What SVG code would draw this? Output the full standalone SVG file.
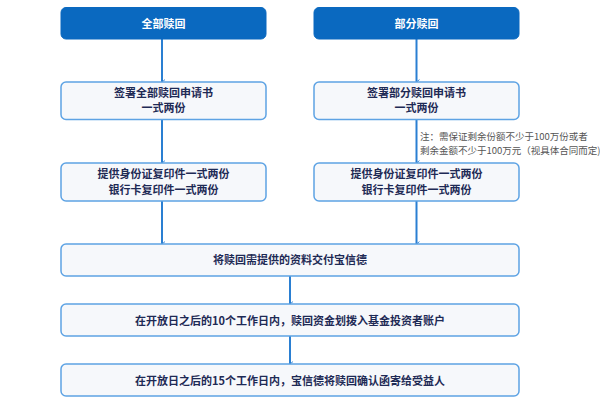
<svg xmlns="http://www.w3.org/2000/svg" width="600" height="417" viewBox="0 0 600 417">
<style>
.hd{fill:#0a69c0;stroke:#0a69c0;stroke-width:1}
.bx{fill:#f6f8fb;stroke:#5ea3e4;stroke-width:1.5}
.ht{font-family:"Noto Sans CJK SC","Noto Sans",sans-serif;font-size:11px;font-weight:bold;fill:#ffffff;text-anchor:middle}
.t{font-family:"Noto Sans CJK SC","Noto Sans",sans-serif;font-size:11px;font-weight:bold;fill:#1e2a55;text-anchor:middle}
.n{font-family:"Noto Sans CJK SC","Noto Sans",sans-serif;font-size:9.5px;fill:#555555}
.c{stroke:#2a7fd2;stroke-width:2;fill:none;marker-end:url(#ah)}
</style>
<defs>
<marker id="ah" viewBox="0 0 10 10" refX="5" refY="8" markerWidth="6" markerHeight="6" markerUnits="userSpaceOnUse" orient="auto-start-reverse">
<path d="M1,3 L5,8 L9,3" fill="none" stroke="#2a7fd2" stroke-width="1.5"/>
</marker>
</defs>
<rect width="600" height="417" fill="#ffffff"/>
<g id="connectors">
<line class="c" x1="162" y1="39" x2="162" y2="82"/>
<line class="c" x1="416.5" y1="39" x2="416.5" y2="82"/>
<line class="c" x1="162" y1="120" x2="162" y2="163"/>
<line class="c" x1="416.5" y1="120" x2="416.5" y2="163"/>
<line class="c" x1="162" y1="201" x2="162" y2="244"/>
<line class="c" x1="416.5" y1="201" x2="416.5" y2="244"/>
<line class="c" x1="290" y1="276" x2="290" y2="304"/>
<line class="c" x1="290" y1="336" x2="290" y2="364"/>
</g>
<g id="full">
<rect class="hd" x="61" y="7.5" width="205" height="31.5" rx="5"/>
<text class="ht" x="163.5" y="28">全部赎回</text>
</g>
<g id="partial">
<rect class="hd" x="314" y="7.5" width="205" height="31.5" rx="5"/>
<text class="ht" x="416.5" y="28">部分赎回</text>
</g>
<g id="sign-full">
<rect class="bx" x="61" y="82" width="205" height="37.5" rx="5"/>
<text class="t" x="163.5" y="97">签署全部赎回申请书</text>
<text class="t" x="163.5" y="112">一式两份</text>
</g>
<g id="sign-partial">
<rect class="bx" x="314" y="82" width="205" height="37.5" rx="5"/>
<text class="t" x="416.5" y="97">签署部分赎回申请书</text>
<text class="t" x="416.5" y="112">一式两份</text>
</g>
<g id="note">
<text class="n" x="420" y="140">注：需保证剩余份额不少于100万份或者</text>
<text class="n" x="420" y="154">剩余金额不少于100万元（视具体合同而定)</text>
</g>
<g id="id-full">
<rect class="bx" x="61" y="163" width="205" height="38" rx="5"/>
<text class="t" x="163.5" y="178">提供身份证复印件一式两份</text>
<text class="t" x="163.5" y="194">银行卡复印件一式两份</text>
</g>
<g id="id-partial">
<rect class="bx" x="314" y="163" width="205" height="38" rx="5"/>
<text class="t" x="416.5" y="178">提供身份证复印件一式两份</text>
<text class="t" x="416.5" y="194">银行卡复印件一式两份</text>
</g>
<g id="submit">
<rect class="bx" x="61" y="244" width="458" height="32" rx="5"/>
<text class="t" x="290" y="264">将赎回需提供的资料交付宝信德</text>
</g>
<g id="transfer">
<rect class="bx" x="61" y="304" width="458" height="32" rx="5"/>
<text class="t" x="290" y="325">在开放日之后的10个工作日内，赎回资金划拨入基金投资者账户</text>
</g>
<g id="confirm">
<rect class="bx" x="61" y="364" width="458" height="32" rx="5"/>
<text class="t" x="290" y="385">在开放日之后的15个工作日内，宝信德将赎回确认函寄给受益人</text>
</g>
</svg>
